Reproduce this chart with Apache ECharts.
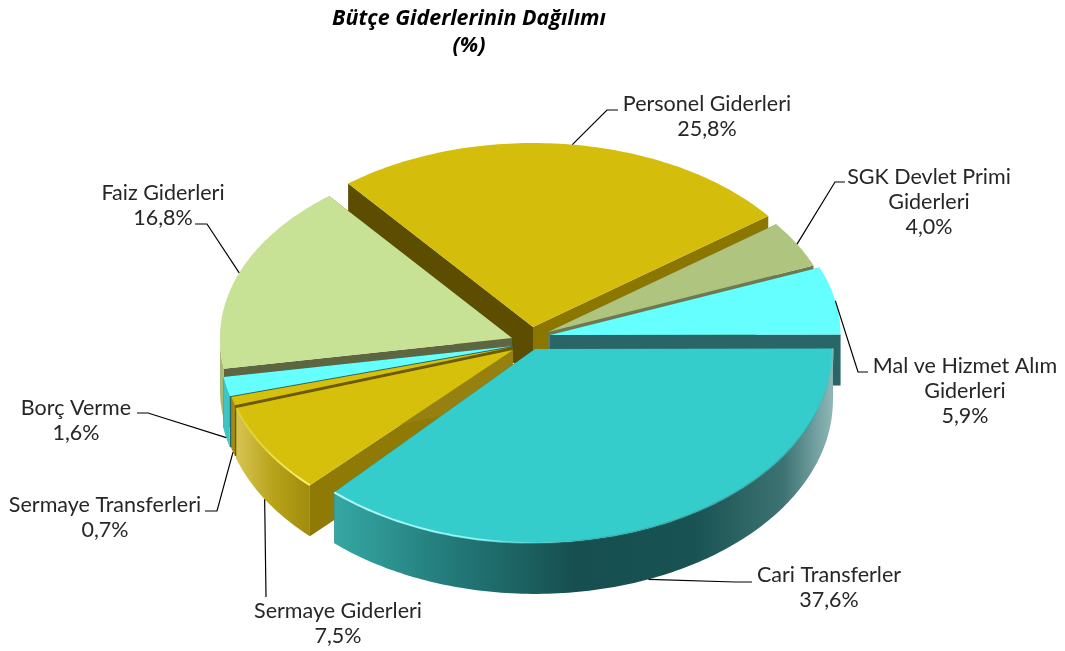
<!DOCTYPE html>
<html>
<head>
<meta charset="utf-8">
<script src="https://cdn.jsdelivr.net/npm/echarts@6/dist/echarts.min.js"></script>
<style>
  html, body { margin: 0; padding: 0; background: #fff; }
  #chart { width: 1065px; height: 651px; }
</style>
</head>
<body>
<div id="chart"></div>
<script>
const titleText = 'Bütçe Giderlerinin Dağılımı\n(%)'
const categories = ['Personel Giderleri', 'SGK Devlet Primi\nGiderleri', 'Mal ve Hizmet Alım\nGiderleri', 'Cari Transferler', 'Sermaye Giderleri', 'Sermaye Transferleri', 'Borç Verme', 'Faiz Giderleri']
const values = [25.8, 4.0, 5.9, 37.6, 7.5, 0.7, 1.6, 16.8]

// pie look, not data
const FONT = 'Lato, "Noto Sans", sans-serif'
const TITLE_FONT = '"Open Sans", "Noto Sans", sans-serif'
const CX = 532
const CY = 340
const RX = 295
const RY_BACK = 184
const RY_FRONT = 192
const DEPTH = 51
const START_DEG = -38.8
const explodeX = [1, 16, 18, 3, -19, -19, -19, -20]
const explodeY = [-13, -8, -5, 9, 10, 7, 6, -2]
const radiusScale = [1, 0.97, 0.985, 1.01, 0.985, 0.99, 0.995, 0.99]
const warpAmount = [1.5, 1.5, 1.5, 3, 1, 1, 1, 0]
const drawRank = [0, 1, 2, 7, 6, 5, 4, 3]
const topColors = ['#d4be0b', '#aec47f', '#66ffff', '#35cccc', '#d7c00c', '#d7c00c', '#66ffff', '#c7e295']
const startWall = ['#5c4d00', '#6d7a50', '#6d7a50', '#2a6668', '#8f7a05', '#6c5a00', '#2a6668', '#5d6640']
const endWall = ['#8b7600', '#6d7a50', '#2a6668', '#2a6668', '#968110', '#6c5a00', '#2a6668', '#5d6640']

const gradient = (stops) => new echarts.graphic.LinearGradient(0, 0, 1, 0, stops.map((s) => ({ offset: s[0], color: s[1] })))
const outerWall = [
  '#8b7600', '#8d9c66', '#3f8c8c',
  gradient([[0, '#35a8a4'], [0.2, '#25807f'], [0.48, '#174f50'], [0.72, '#185252'], [0.9, '#3d7272'], [1, '#8fb8b8']]),
  gradient([[0, '#d6c452'], [0.5, '#b8a31a'], [1, '#a08b0c']]),
  '#a08b0c', '#3fc4c4', '#a9ba78'
]
// leader line: where on the slice it starts, elbow, end, label centre
const leaderAt = [0.5, 0.5, 0.5, 0.5, 0.52, 0.5, 0.5, 0.5]
const elbows = [[607, 110], [835, 182], [858, 372], [735, 582], [266, 596], [217, 511], [148, 413], [207, 224]]
const lineEnds = [[618, 110], [845, 182], [868, 372], [752, 582], [266, 597], [205, 511], [137, 413], [195, 224]]
const labelPos = [[707, 117], [929, 202], [965, 391], [829, 588], [338, 624], [105, 518], [76, 421], [163, 206]]

const total = values.reduce((a, b) => a + b, 0)
const startAngles = []
values.reduce((acc, v, i) => {
  startAngles[i] = acc
  return acc + (v / total) * 360
}, START_DEG)

// the picture is in perspective: angles pull a little toward the vertical in two quadrants
const warp = (i, deg) => {
  const s = Math.sin((2 * deg * Math.PI) / 180)
  if (s <= 0) return deg
  return deg - warpAmount[i] * s * s * s
}

const arcPoint = (i, deg, drop) => {
  const t = (warp(i, deg) * Math.PI) / 180
  const cos = Math.cos(t)
  const ry = cos < 0 ? RY_FRONT : RY_BACK
  return [
    CX + explodeX[i] + RX * radiusScale[i] * Math.sin(t),
    CY + explodeY[i] - ry * radiusScale[i] * cos + (drop || 0),
  ]
}

const renderItem = (params, api) => {
  const i = params.dataIndex
  const sweep = (api.value(0) / total) * 360
  const a0 = startAngles[i]
  const apex = [CX + explodeX[i], CY + explodeY[i]]
  const steps = Math.max(4, Math.ceil(sweep))
  const arc = []
  const frontArc = []
  for (let k = 0; k <= steps; k++) {
    const d = a0 + (sweep * k) / steps
    const p = arcPoint(i, d)
    arc.push(p)
    if (Math.cos((d * Math.PI) / 180) < 0.02) frontArc.push(p)
  }
  const down = (p) => [p[0], p[1] + DEPTH]
  const base = drawRank[i] * 10
  const children = [
    { type: 'polygon', z2: base, shape: { points: [apex, arc[0], down(arc[0]), down(apex)] }, style: { fill: startWall[i] } },
    { type: 'polygon', z2: base + 1, shape: { points: [apex, arc[steps], down(arc[steps]), down(apex)] }, style: { fill: endWall[i] } },
    { type: 'polygon', z2: base + 3, shape: { points: [apex].concat(arc) }, style: { fill: topColors[i] } },
  ]
  if (frontArc.length > 1) {
    children.push({ type: 'polygon', z2: base + 2, shape: { points: frontArc.concat(frontArc.slice().reverse().map(down)) }, style: { fill: outerWall[i] } })
  }

  // bright bevel on the front rim of the two front slices
  if (i === 3) {
    children.push({
      type: 'polyline', z2: base + 4, shape: { points: arc },
      style: { fill: null, lineWidth: 2, stroke: gradient([[0, 'rgba(190,255,255,0.95)'], [0.3, 'rgba(150,255,255,0.8)'], [0.42, 'rgba(90,220,220,0.2)'], [0.5, 'rgba(40,130,130,0.3)'], [0.95, 'rgba(60,130,130,0.5)'], [1, 'rgba(160,200,200,0.6)']]) },
    })
  }
  if (i === 4) {
    children.push({
      type: 'polyline', z2: base + 4, shape: { points: arc },
      style: { fill: null, lineWidth: 2, stroke: gradient([[0, 'rgba(240,220,60,0.5)'], [1, 'rgba(255,245,120,1)']]) },
    })
  }

  // leader line from the middle of the slice, on the wall when it faces us
  const mid = a0 + sweep * leaderAt[i]
  const front = Math.cos((mid * Math.PI) / 180) < 0
  children.push({
    type: 'polyline', z2: 100, shape: { points: [arcPoint(i, mid, front ? DEPTH : 0), elbows[i], lineEnds[i]] },
    style: { fill: null, stroke: '#000', lineWidth: 1.2 },
  })
  children.push({
    type: 'text', z2: 101,
    style: {
      x: labelPos[i][0], y: labelPos[i][1],
      text: categories[i] + '\n' + api.value(0).toFixed(1).replace('.', ',') + '%',
      align: 'center', verticalAlign: 'middle', lineHeight: 25,
      font: '21.5px ' + FONT, fill: '#262626',
    },
  })
  return { type: 'group', children }
}

const chart = echarts.init(document.getElementById('chart'))
chart.setOption({
  animation: false,
  backgroundColor: '#fff',
  title: {
    text: titleText,
    left: 464,
    top: 0,
    textAlign: 'center',
    textStyle: { fontFamily: TITLE_FONT, fontSize: 21.5, fontWeight: 'bold', fontStyle: 'italic', color: '#000', lineHeight: 27 },
  },
  series: [
    {
      type: 'custom',
      coordinateSystem: 'none',
      silent: true,
      data: values.map((v, i) => ({ name: categories[i], value: [v] })),
      renderItem,
    },
  ],
})
</script>
</body>
</html>
